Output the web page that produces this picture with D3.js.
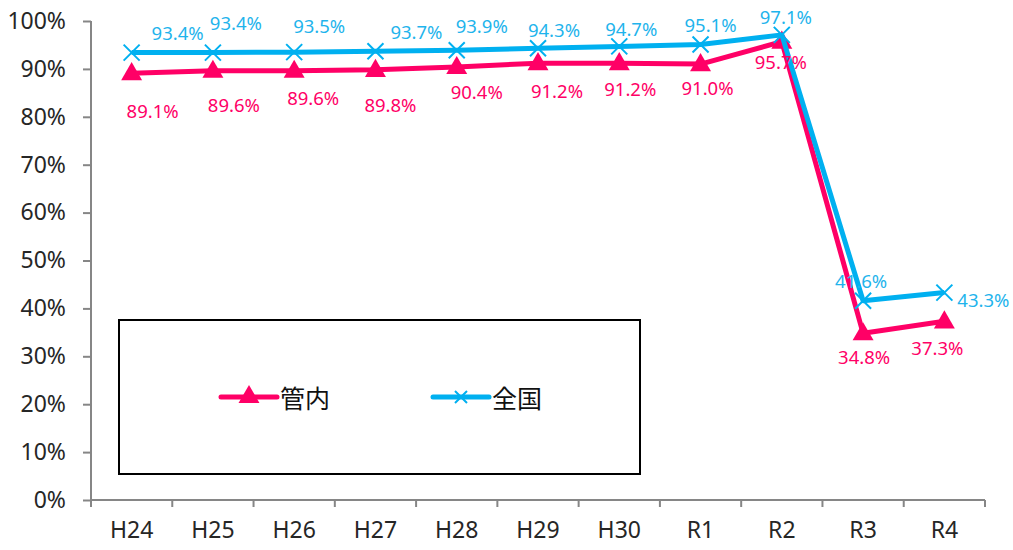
<!DOCTYPE html>
<html>
<head>
<meta charset="utf-8">
<script src="https://cdn.jsdelivr.net/npm/d3@7"></script>
<style>
	body { margin: 0; background: #fff; }
	svg { display: block; }
</style>
</head>
<body>
<svg id="chart" width="1013" height="550"></svg>
<script>
// data
var categories = ["H24", "H25", "H26", "H27", "H28", "H29", "H30", "R1", "R2", "R3", "R4"];
var kannai = [0.891, 0.896, 0.896, 0.898, 0.904, 0.912, 0.912, 0.910, 0.957, 0.348, 0.373];
var zenkoku = [0.934, 0.934, 0.935, 0.937, 0.939, 0.943, 0.947, 0.951, 0.971, 0.416, 0.433];
var yTicks = [0, 0.1, 0.2, 0.3, 0.4, 0.5, 0.6, 0.7, 0.8, 0.9, 1.0];

// hand-placed label offsets (as in the original, labels were dragged around)
var kannaiLabelOffset = [[21, 37], [21, 34], [19, 27], [15, 35], [20, 25], [19, 27], [11, 25], [7, 23], [-1, 20], [1, 23], [-7, 26]];
var zenkokuLabelOffset = [[46, -20], [23, -30], [25, -27], [41, -20], [25, -25], [16, -19], [12, -18], [10, -20], [4, -18], [-2, -20], [39, 7]];

var pink = "#ff0066";
var blue = "#00b0f0";
var axisGray = "#868686";
var font = "'Noto Sans', 'Open Sans', sans-serif";

var svg = d3.select("#chart");

var x = d3.scaleBand().domain(categories).range([91, 985]);
var y = d3.scaleLinear().domain([0, 1]).range([500, 21]);
var cx = function(d, i) { return x(categories[i]) + x.bandwidth() / 2; };

// axes
var yAxis = svg.append("g")
	.attr("transform", "translate(91,0)")
	.call(d3.axisLeft(y).tickValues(yTicks).tickSize(8).tickPadding(17).tickFormat(d3.format(".0%")));
var xAxis = svg.append("g")
	.attr("transform", "translate(0,500)")
	.call(d3.axisBottom(x).tickSize(0).tickPadding(22));

[yAxis, xAxis].forEach(function(g) {
	g.select(".domain").attr("stroke", axisGray).attr("stroke-width", 2);
	g.selectAll(".tick line").attr("stroke", axisGray).attr("stroke-width", 2);
	g.selectAll("text")
		.attr("fill", "#262626")
		.style("font-family", font)
		.style("font-size", "23px");
});
yAxis.select(".domain").attr("d", "M0,500V21");
xAxis.select(".domain").attr("d", "M91,0H985");

// x ticks sit on the category boundaries
xAxis.selectAll(".boundary")
	.data(categories.concat(["end"]))
	.enter()
		.append("line")
		.attr("x1", function(d, i) { return 91 + i * x.step(); })
		.attr("x2", function(d, i) { return 91 + i * x.step(); })
		.attr("y1", 0)
		.attr("y2", 7)
		.attr("stroke", axisGray)
		.attr("stroke-width", 2);

// legend box
svg.append("rect")
	.attr("x", 119)
	.attr("y", 320)
	.attr("width", 521)
	.attr("height", 154)
	.attr("fill", "#fff")
	.attr("stroke", "#000")
	.attr("stroke-width", 2);

var line = d3.line()
	.x(cx)
	.y(function(d) { return y(d); });

var triangle = d3.symbol().type(d3.symbolTriangle).size(190);

function drawSeries(values, color) {
	svg.append("path")
		.datum(values)
		.attr("fill", "none")
		.attr("stroke", color)
		.attr("stroke-width", 5)
		.attr("stroke-linejoin", "round")
		.attr("d", line);
}

drawSeries(kannai, pink);
svg.selectAll(".tri")
	.data(kannai)
	.enter()
		.append("path")
		.attr("transform", function(d, i) { return "translate(" + cx(d, i) + "," + (y(d) + 1) + ")"; })
		.attr("d", triangle)
		.attr("fill", pink);

drawSeries(zenkoku, blue);
svg.selectAll(".cross")
	.data(zenkoku)
	.enter()
		.append("path")
		.attr("transform", function(d, i) { return "translate(" + cx(d, i) + "," + y(d) + ")"; })
		.attr("d", "M-8,-8L8,8M-8,8L8,-8")
		.attr("stroke", blue)
		.attr("stroke-width", 2);

// data labels
function drawLabels(values, offsets, color) {
	svg.append("g")
		.selectAll("text")
		.data(values)
		.enter()
			.append("text")
			.attr("x", function(d, i) { return cx(d, i) + offsets[i][0]; })
			.attr("y", function(d, i) { return y(d) + offsets[i][1]; })
			.attr("text-anchor", "middle")
			.attr("dominant-baseline", "central")
			.attr("fill", color)
			.style("font-family", font)
			.style("font-size", "18.5px")
			.text(function(d) { return (d * 100).toFixed(1) + "%"; });
}
drawLabels(kannai, kannaiLabelOffset, pink);
drawLabels(zenkoku, zenkokuLabelOffset, "#1fb4ec");

// legend entries
var legend = [
	{ name: "管内", color: pink, x: 221, marker: "tri" },
	{ name: "全国", color: blue, x: 433, marker: "cross" }
];
legend.forEach(function(item) {
	var g = svg.append("g").attr("transform", "translate(" + item.x + ",397)");
	g.append("line")
		.attr("x1", 0).attr("x2", 56)
		.attr("stroke", item.color)
		.attr("stroke-width", 5)
		.attr("stroke-linecap", "round");
	if (item.marker === "tri") {
		g.append("path").attr("transform", "translate(28,0)").attr("d", triangle).attr("fill", item.color);
	} else {
		g.append("path")
			.attr("transform", "translate(28,0)")
			.attr("d", "M-6,-6L6,6M-6,6L6,-6")
			.attr("stroke", item.color)
			.attr("stroke-width", 2);
	}
	g.append("text")
		.attr("x", 59)
		.attr("dominant-baseline", "central")
		.attr("fill", "#111")
		.style("font-family", "'Noto Sans CJK JP', sans-serif")
		.style("font-size", "25px")
		.text(item.name);
});
</script>
</body>
</html>
